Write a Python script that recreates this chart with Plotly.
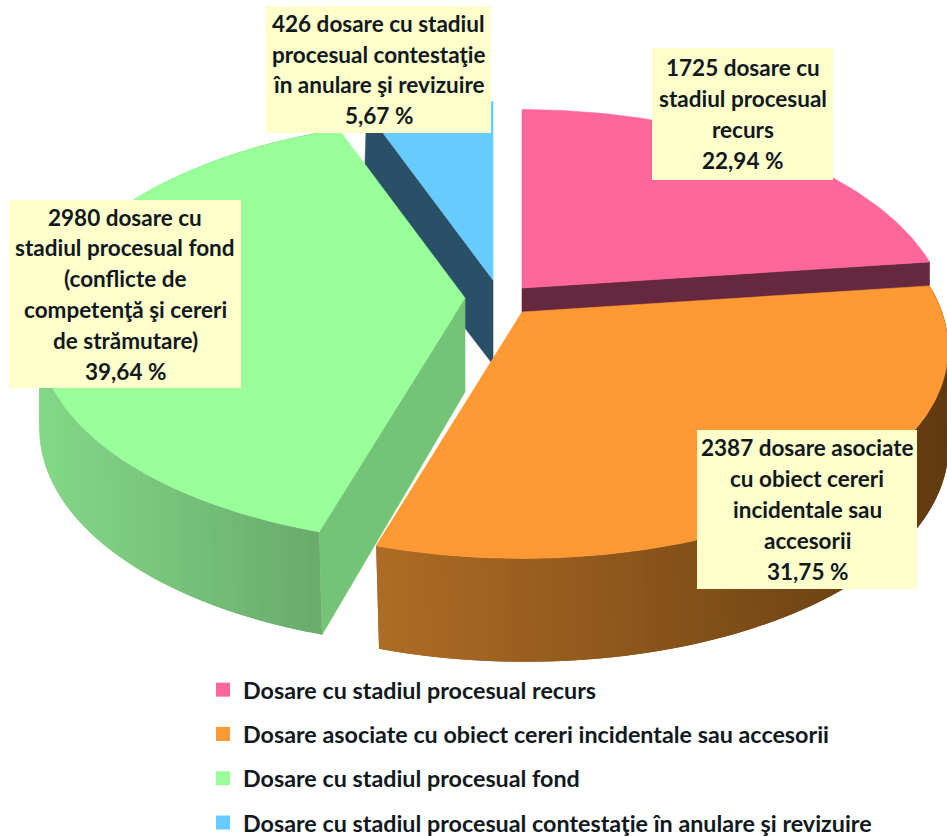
import numpy as np
import plotly.graph_objects as go

# --- data ---
categories = [
    "Dosare cu stadiul procesual recurs",
    "Dosare asociate cu obiect cereri incidentale sau accesorii",
    "Dosare cu stadiul procesual fond",
    "Dosare cu stadiul procesual contestaţie în anulare şi revizuire",
]
counts = [1725, 2387, 2980, 426]
percent_labels = ["22,94 %", "31,75 %", "39,64 %", "5,67 %"]
label_lines = [
    ["1725 dosare cu", "stadiul procesual", "recurs"],
    ["2387 dosare asociate", "cu obiect cereri", "incidentale sau", "accesorii"],
    ["2980 dosare cu", "stadiul procesual fond", "(conflicte de", "competenţă şi cereri", "de strămutare)"],
    ["426 dosare cu stadiul", "procesual contestaţie", "în anulare şi revizuire"],
]

# --- styling ---
top_colors = ["#FF6699", "#FF9933", "#99FF99", "#66CCFF"]
radial_wall_colors = ["#66283F", None, "#73C476", "#2A5068"]
outer_wall_left = [None, "#AE6C25", "#84D887", None]
outer_wall_right = [None, "#613A10", "#67A86A", None]
# pie centre of each exploded slice, in picture pixels
centres = [(522, 288), (522, 312), (465, 298), (493, 280)]
boxes = [(652, 48, 833, 180), (697, 430, 917, 589), (9, 200, 241, 388), (266, 6, 491, 133)]
R, K, PX, PY, DEPTH = 420.0, 207.0, 0.17, 0.16, 94.0
LINE_STEP = 30.8


def project(c, t, lower=False):
    """Tilted-disc perspective projection of angle t (clockwise from 12 o'clock)."""
    v = -np.cos(t)
    x = c[0] + R * np.sin(t) / (1 - PX * v)
    y = c[1] + K * v / (1 - PY * v)
    if lower:
        x = x + 3 * v
        y = y + DEPTH * (1 + 0.10 * v)
    return x, y


def lerp_hex(a, b, f):
    ca = [int(a[i:i + 2], 16) for i in (1, 3, 5)]
    cb = [int(b[i:i + 2], 16) for i in (1, 3, 5)]
    f = min(max(f, 0), 1)
    return "rgb(%d,%d,%d)" % tuple(round(p + (q - p) * f) for p, q in zip(ca, cb))


def poly(xs, ys, color, width=0.6):
    return go.Scatter(x=list(xs) + [xs[0]], y=list(ys) + [ys[0]], mode="lines", fill="toself",
                      fillcolor=color, line=dict(color=color, width=width),
                      hoverinfo="skip", showlegend=False)


fig = go.Figure()
total = sum(counts)
edges = 2 * np.pi * np.cumsum([0] + counts) / total
draw_order = [3, 0, 1, 2]

for i in draw_order:
    c, a0, a1 = centres[i], edges[i], edges[i + 1]
    # radial wall(s)
    if i == 0:
        xe, ye = project(c, a1)
        xl, yl = project(c, a1, True)
        fig.add_trace(poly([c[0], xe, xl, c[0]], [c[1], ye, yl, c[1] + DEPTH * 1.0], radial_wall_colors[i]))
    if i == 3:
        xe, ye = project(c, a0)
        xl, yl = project(c, a0, True)
        fig.add_trace(poly([c[0], xe, xl, c[0]], [c[1], ye, yl, c[1] + DEPTH * 0.9], radial_wall_colors[i]))
    if i == 2:
        xe, ye = project(c, a0)
        xl, yl = project(c, a0, True)
        fig.add_trace(poly([c[0], xe, xl, c[0]], [c[1], ye, yl, c[1] + DEPTH], radial_wall_colors[i]))
    # outer wall as gradient bands, each overlapping the next so no seams show
    if outer_wall_left[i]:
        ts = np.linspace(a0, a1, 90)
        xs = [project(c, t)[0] for t in ts]
        xmin, xmax = min(xs), max(xs)
        order = list(zip(ts[:-1], ts[1:]))
        for j, (t0, t1) in enumerate(order):
            t1x = order[min(j + 1, len(order) - 1)][1]
            x0, y0 = project(c, t0)
            x1, y1 = project(c, t1x)
            x0b, y0b = project(c, t0, True)
            x1b, y1b = project(c, t1x, True)
            mid = project(c, (t0 + t1) / 2)[0]
            col = lerp_hex(outer_wall_left[i], outer_wall_right[i], (mid - xmin) / (xmax - xmin))
            fig.add_trace(poly([x0, x1, x1b, x0b], [y0, y1, y1b, y0b], col, width=0))
    # top face
    ts = np.linspace(a0, a1, 120)
    pts = [project(c, t) for t in ts]
    fig.add_trace(poly([c[0]] + [p[0] for p in pts], [c[1]] + [p[1] for p in pts], top_colors[i]))

# legend entries
for name, col in zip(categories, top_colors):
    fig.add_trace(go.Scatter(x=[None], y=[None], mode="markers", name=name, legendgroup=name,
                             marker=dict(symbol="square", size=14, color=col), showlegend=True))

FONT = "Lato"
shapes, annotations = [], []
for (x0, y0, x1, y1), lines, pct in zip(boxes, label_lines, percent_labels):
    shapes.append(dict(type="rect", xref="x", yref="y", x0=x0, y0=y0, x1=x1, y1=y1,
                       fillcolor="#FFFFCC", line=dict(width=0), layer="above"))
    all_lines = lines + [pct]
    cy = (y0 + y1) / 2
    for k, line in enumerate(all_lines):
        annotations.append(dict(x=(x0 + x1) / 2, y=cy + (k - (len(all_lines) - 1) / 2) * LINE_STEP,
                                xref="x", yref="y", text=line, showarrow=False,
                                xanchor="center", yanchor="middle",
                                font=dict(family=FONT, size=22.5, color="#101820", weight="bold")))

fig.update_layout(
    width=947, height=836, margin=dict(l=0, r=0, t=0, b=0, autoexpand=False),
    paper_bgcolor="white", plot_bgcolor="white", autosize=False,
    xaxis=dict(range=[0, 947], visible=False, fixedrange=True),
    yaxis=dict(range=[836, 0], visible=False, fixedrange=True),
    shapes=shapes, annotations=annotations,
    legend=dict(x=203 / 947, xanchor="left", yref="container",
                y=1 - 668 / 836, yanchor="top",
                traceorder="grouped", tracegroupgap=11, bgcolor="rgba(0,0,0,0)",
                font=dict(family=FONT, size=23.3, color="#101820", weight="bold"),
                itemclick=False, itemdoubleclick=False),
)

fig.write_html("out.html", config={"displayModeBar": False},
               post_script="document.body.style.margin='0';document.body.style.overflow='hidden';")
